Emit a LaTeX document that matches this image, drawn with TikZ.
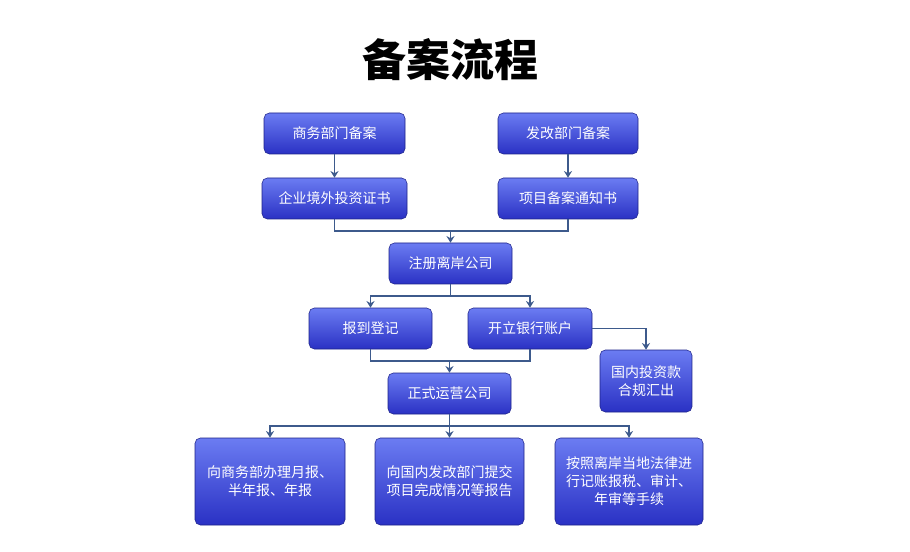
\documentclass[tikz,border=0pt]{standalone}
\usepackage{fontspec}
\setmainfont{Noto Sans CJK SC}
\begin{document}
\begin{tikzpicture}[x=0.75pt,y=-0.75pt,
 box/.style={rounded corners=4pt,top color=blue1,bottom color=blue2,draw=blue2!70!black,line width=0.4pt,text=white,font=\fontsize{10.5}{13.5}\selectfont,align=center,inner sep=0pt},
 ln/.style={draw=lnc,line width=1.3pt},
 ar/.style={ln,-{Stealth[length=5pt,width=6pt]}}]
\definecolor{blue1}{HTML}{6B7CF2}
\definecolor{blue2}{HTML}{2A31C4}
\definecolor{lnc}{HTML}{3D5A8C}
\usetikzlibrary{arrows.meta}
\useasboundingbox (0,0) rectangle (910,552);
\node[font=\fontsize{33}{36}\selectfont\bfseries] (title) at (450,60) {备案流程};
\node[box,minimum width=105.75pt,minimum height=30.75pt] (a1) at (334.5,133.5) {商务部门备案};
\node[box,minimum width=105pt,minimum height=30.75pt] (b1) at (568,133.5) {发改部门备案};
\node[box,minimum width=108.75pt,minimum height=30.75pt] (a2) at (334.5,198.5) {企业境外投资证书};
\node[box,minimum width=105pt,minimum height=30.75pt] (b2) at (568,198.5) {项目备案通知书};
\node[box,minimum width=92.25pt,minimum height=30.75pt] (c) at (450.5,263.5) {注册离岸公司};
\node[box,minimum width=92.25pt,minimum height=30.75pt] (d1) at (370.5,328.5) {报到登记};
\node[box,minimum width=93pt,minimum height=30.75pt] (d2) at (530,328.5) {开立银行账户};
\node[box,minimum width=69pt,minimum height=46.5pt] (g) at (646,381) {国内投资款\\合规汇出};
\node[box,minimum width=92.25pt,minimum height=30.75pt] (e) at (449.5,393.5) {正式运营公司};
\node[box,minimum width=112.5pt,minimum height=65.25pt] (f1) at (270,481.5) {向商务部办理月报、\\半年报、年报};
\node[box,minimum width=111.75pt,minimum height=65.25pt] (f2) at (449.5,481.5) {向国内发改部门提交\\项目完成情况等报告};
\node[box,minimum width=111pt,minimum height=65.25pt] (f3) at (629,481.5) {按照离岸当地法律进\\行记账报税、审计、\\年审等手续};
\draw[ar] (a1) -- (a2);
\draw[ar] (b1) -- (b2);
\coordinate (m1) at (450.5,231);
\draw[ln] (a2.south) |- (m1) -| (b2.south);
\draw[ar] (m1) -- (c);
\coordinate (m2) at (450.5,296);
\draw[ln] (c) -- (m2);
\draw[ar] (m2) -| (d1.north);
\draw[ar] (m2) -| (d2.north);
\coordinate (m3) at (449.5,361);
\draw[ln] (d1.south) |- (m3) -| (d2.south);
\draw[ar] (m3) -- (e);
\draw[ar] (d2.east) -| (g.north);
\coordinate (m4) at (449.5,426);
\draw[ln] (e) -- (m4);
\draw[ar] (m4) -| (f1.north);
\draw[ar] (m4) -- (f2.north);
\draw[ar] (m4) -| (f3.north);
\end{tikzpicture}
\end{document}
